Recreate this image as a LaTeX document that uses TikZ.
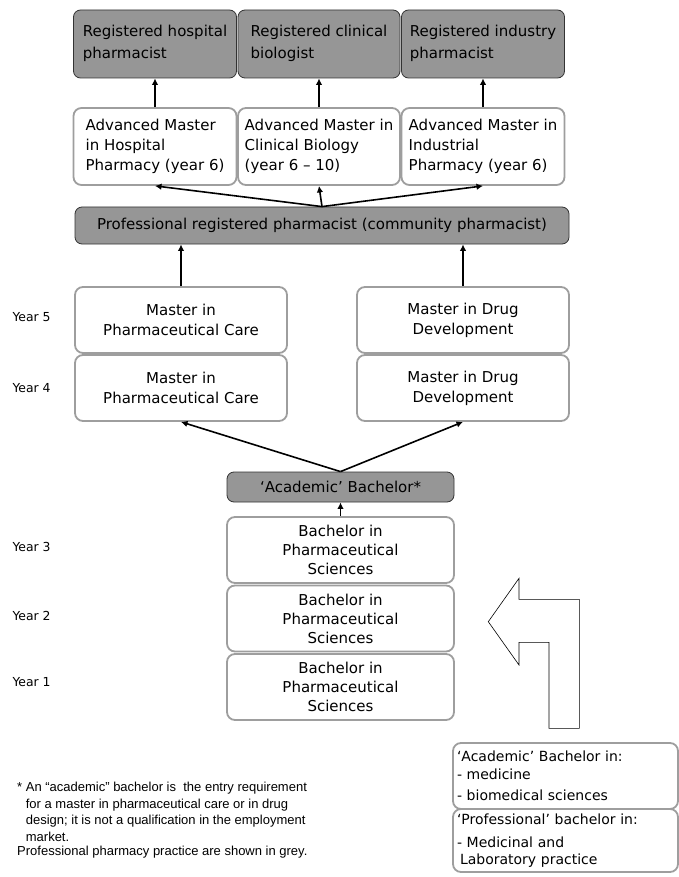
\documentclass[tikz,border=0pt]{standalone}
\usepackage{fontspec}
\setmainfont{DejaVu Sans}
\newfontfamily\notefont{Liberation Sans}
\usepackage{tikz}
\usetikzlibrary{arrows.meta}

\begin{document}
\begin{tikzpicture}[x=1pt,y=-1pt,
    every node/.style={font=\fontsize{15}{20}\selectfont},
    gbox/.style={draw=black!80,fill=black!41,rounded corners=7pt,line width=0.8pt,
      inner sep=0pt,align=left},
    wbox/.style={draw=black!38,fill=white,rounded corners=8pt,line width=1.8pt,
      inner sep=0pt,align=center},
    entrybox/.style={wbox,align=left,minimum width=225pt,text width=217pt,
      font=\fontsize{14}{17}\selectfont},
    year/.style={anchor=west,font=\fontsize{12.4}{14}\selectfont},
    arr/.style={-{Latex[length=6.5pt,width=6.5pt]},line width=1.6pt}]
    \useasboundingbox (0,0) rectangle (679,877);
    % top row
    \node[gbox,minimum width=163pt,minimum height=68pt] (reghosp) at (155,44)
        {\begin{tabular}{@{}l@{}}Registered hospital\\[2pt]pharmacist\end{tabular}};
    \node[gbox,minimum width=162pt,minimum height=68pt] (regclin) at (319,44)
        {\begin{tabular}{@{}l@{}}Registered clinical\\[2pt]biologist\end{tabular}};
    \node[gbox,minimum width=163pt,minimum height=68pt] (regind) at (483,44)
        {\begin{tabular}{@{}l@{}}Registered industry\\[2pt]pharmacist\end{tabular}};
    \node[wbox,minimum width=163pt,minimum height=77pt] (advhosp) at (155,146.5)
        {\begin{tabular}{@{}l@{}}Advanced Master\\in Hospital\\Pharmacy (year 6)\end{tabular}};
    \node[wbox,minimum width=162pt,minimum height=77pt] (advclin) at (319,146.5)
        {\begin{tabular}{@{}l@{}}Advanced Master in\\Clinical Biology\\(year 6 -- 10)\end{tabular}};
    \node[wbox,minimum width=163pt,minimum height=77pt] (advind) at (483,146.5)
        {\begin{tabular}{@{}l@{}}Advanced Master in\\Industrial\\Pharmacy (year 6)\end{tabular}};
    \node[gbox,minimum width=494pt,minimum height=37pt] (prof) at (322,225.5)
        {Professional registered pharmacist (community pharmacist)};
    % masters
    \node[wbox,minimum width=212pt,minimum height=66pt] (mcfive) at (181,320)
        {Master in\\Pharmaceutical Care};
    \node[wbox,minimum width=212pt,minimum height=66pt] (mdfive) at (463,320)
        {Master in Drug\\Development};
    \node[wbox,minimum width=212pt,minimum height=66pt] (mcfour) at (181,388)
        {Master in\\Pharmaceutical Care};
    \node[wbox,minimum width=212pt,minimum height=66pt] (mdfour) at (463,388)
        {Master in Drug\\Development};
    % bachelors
    \node[gbox,align=center,minimum width=227pt,minimum height=30pt] (acad) at (340.5,487)
        {`Academic' Bachelor*};
    \node[wbox,minimum width=227pt,minimum height=66pt] (bachthree) at (340.5,550)
        {Bachelor in\\[-1pt]Pharmaceutical\\[-1pt]Sciences};
    \node[wbox,minimum width=227pt,minimum height=66pt] (bachtwo) at (340.5,618.5)
        {Bachelor in\\[-1pt]Pharmaceutical\\[-1pt]Sciences};
    \node[wbox,minimum width=227pt,minimum height=66pt] (bachone) at (340.5,687)
        {Bachelor in\\[-1pt]Pharmaceutical\\[-1pt]Sciences};
    % years
    \node[year] (yfive) at (9,317) {Year 5};
    \node[year] (yfour) at (9,388) {Year 4};
    \node[year] (ythree) at (9,547) {Year 3};
    \node[year] (ytwo) at (9,616) {Year 2};
    \node[year] (yone) at (9,682) {Year 1};
    % other entries
    \node[entrybox,minimum height=66pt] (acadin) at (565.5,776)
        {`Academic' Bachelor in:\\[1pt]- medicine\\[4pt]- biomedical sciences};
    \node[entrybox,minimum height=63pt] (profin) at (565.5,840.5)
        {`Professional' bachelor in:\\[6pt]- Medicinal and\\\hspace*{3pt}Laboratory practice};
    \draw[line width=0.6pt,fill=white] (488.3,621.7) -- (519,578.3) -- (519,599.3) -- (579.3,599.3)
        -- (579.3,728.3) -- (549,728.3) -- (549,642.3) -- (519,642.3) -- (519,665) -- cycle;
    % note
    \node[anchor=north west,align=left,inner sep=0pt,font=\notefont\fontsize{13}{16.5}\selectfont] (note) at (17,782)
        {* An “academic” bachelor is\ \ the entry requirement\\
         \phantom{* }for a master in pharmaceutical care or in drug\\
         \phantom{* }design; it is not a qualification in the employment\\
         \phantom{* }market.\\[-2pt]
         Professional pharmacy practice are shown in grey.};
    % arrows
    \draw[arr] (advhosp.north) -- (reghosp.south);
    \draw[arr] (advclin.north) -- (regclin.south);
    \draw[arr] (advind.north) -- (regind.south);
    \draw[arr] (prof.north) -- (advhosp.south);
    \draw[arr] (prof.north) -- (advclin.south);
    \draw[arr] (prof.north) -- (advind.south);
    \draw[arr] (mcfive.north) -- (mcfive.north |- prof.south);
    \draw[arr] (mdfive.north) -- (mdfive.north |- prof.south);
    \draw[arr] (acad.north) -- (mcfour.south);
    \draw[arr] (acad.north) -- (mdfour.south);
    \draw[arr] (bachthree.north) -- (acad.south);
\end{tikzpicture}
\end{document}
